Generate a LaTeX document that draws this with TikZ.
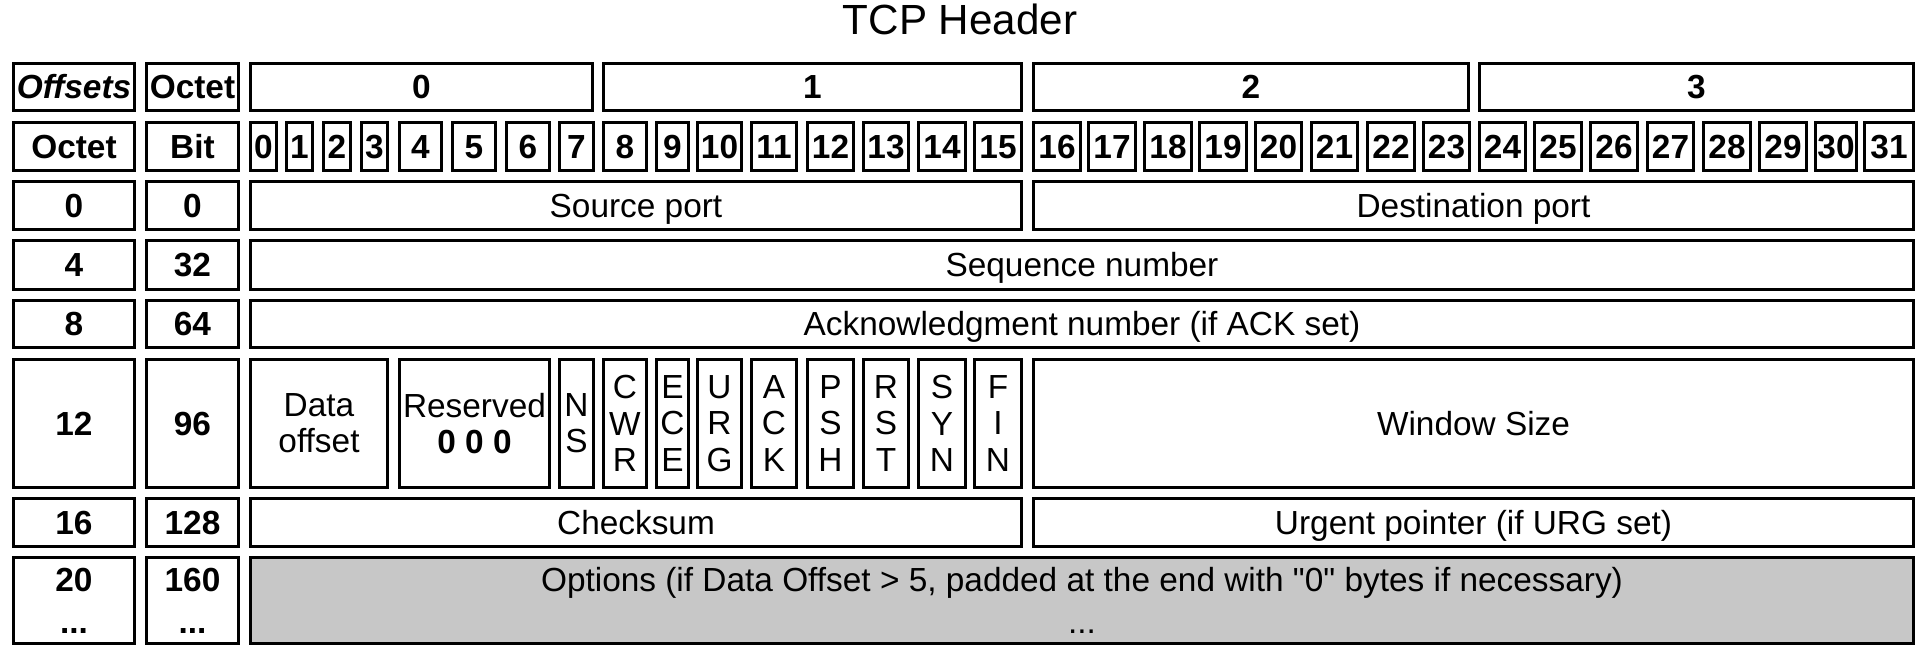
\documentclass[tikz,border=0pt]{standalone}
\usepackage{fontspec}
\setmainfont{Liberation Sans}
% [text style]{name}{left}{right}{top}{bottom}{text}, edges in pixels
\newcommand\hdrcell[7][celltxt]{%
  \draw[cellline] ({#3/100+0.015},{-#5/100-0.015}) rectangle ({#4/100-0.015},{-#6/100+0.015});
  \node[#1] (#2) at ({(#3+#4)/200},{-(#5+#6)/200}) {#7};}
\tikzset{
  cellline/.style={line width=0.85pt},
  celltxt/.style={inner sep=0pt, font=\fontsize{9.5}{10.3}\selectfont, text height=6.8pt, text depth=0pt},
  cellbold/.style={celltxt, font=\fontsize{9.5}{10.3}\selectfont\bfseries},
  flagtxt/.style={inner sep=0pt, align=center, font=\fontsize{9.5}{10.3}\selectfont},
  opttxt/.style={flagtxt, font=\fontsize{9.5}{12}\selectfont},
  optbold/.style={opttxt, font=\fontsize{9.5}{12}\selectfont\bfseries},
  optfill/.style={fill=black!22},
}
\begin{document}
\begin{tikzpicture}
	\useasboundingbox (0,0) rectangle (19.25,-6.5);
	%%%%% TITLE %%%%%
	\node[anchor=base, font=\fontsize{12}{14}\selectfont] (title) at (9.6,-0.35) {TCP Header};
	
	%%%%% OCTETS %%%%%
	\hdrcell[cellbold]{offsets}{12}{136}{62}{112}{\textit{Offsets}}
	\hdrcell[cellbold]{octethd}{145}{240}{62}{112}{Octet}
	\hdrcell[cellbold]{oct0}{249}{594}{62}{112}{0}
	\hdrcell[cellbold]{oct1}{602}{1023}{62}{112}{1}
	\hdrcell[cellbold]{oct2}{1032}{1470}{62}{112}{2}
	\hdrcell[cellbold]{oct3}{1478}{1915}{62}{112}{3}
	
	%%%%% BITS %%%%%
	\hdrcell[cellbold]{octetcol}{12}{136}{121}{172}{Octet}
	\hdrcell[cellbold]{bitcol}{145}{240}{121}{172}{Bit}
	\foreach \l/\r [count=\b from 0] in {249/278, 285/314, 322/352, 360/389, 398/443, 451/497, 505/551, 558/595,
		602/648, 655/690, 696/743, 750/798, 806/855, 862/910, 917/967, 973/1023,
		1032/1082, 1087/1137, 1143/1193, 1198/1248, 1254/1303, 1310/1359, 1366/1416, 1422/1471,
		1478/1527, 1533/1583, 1589/1639, 1646/1695, 1702/1752, 1758/1808, 1814/1858, 1863/1915}
		{\hdrcell[cellbold]{bit\b}{\l}{\r}{121}{172}{\b}}
	
	%%%%% OFFSETS %%%%%
	\foreach \o/\t/\u in {0/180/231, 4/239/291, 8/299/349, 12/358/489, 16/497/548}{
		\pgfmathtruncatemacro\bv{\o*8}
		\hdrcell[cellbold]{row\o}{12}{136}{\t}{\u}{\o}
		\hdrcell[cellbold]{rowbit\o}{145}{240}{\t}{\u}{\bv}
	}
	\hdrcell[optbold]{row20}{12}{136}{556}{645}{20\\...}
	\hdrcell[optbold]{rowbit20}{145}{240}{556}{645}{160\\...}
	
	%%%%% FIELDS %%%%%
	\hdrcell{srcport}{249}{1023}{180}{231}{Source port}
	\hdrcell{dstport}{1032}{1915}{180}{231}{Destination port}
	\hdrcell{seqnum}{249}{1915}{239}{291}{Sequence number}
	\hdrcell{acknum}{249}{1915}{299}{349}{Acknowledgment number (if ACK set)}
	\hdrcell[flagtxt]{dataoff}{249}{389}{358}{489}{Data\\offset}
	\hdrcell[flagtxt]{reserved}{398}{551}{358}{489}{Reserved\\\textbf{0 0 0}}
	\foreach \n/\f/\l/\r in {ns/N\\S/558/595, cwr/C\\W\\R/602/648, ece/E\\C\\E/655/690, urg/U\\R\\G/696/743,
		ack/A\\C\\K/750/798, psh/P\\S\\H/806/855, rst/R\\S\\T/862/910, syn/S\\Y\\N/917/967, fin/F\\I\\N/973/1023}
		{\hdrcell[flagtxt]{\n}{\l}{\r}{358}{489}{\f}}
	\hdrcell{winsize}{1032}{1915}{358}{489}{Window Size}
	\hdrcell{checksum}{249}{1023}{497}{548}{Checksum}
	\hdrcell{urgptr}{1032}{1915}{497}{548}{Urgent pointer (if URG set)}
	\fill[optfill] (2.49,-5.56) rectangle (19.15,-6.45);
	\hdrcell[opttxt]{options}{249}{1915}{556}{645}{Options (if Data Offset > 5, padded at the end with \textquotedbl 0\textquotedbl{} bytes if necessary)\\...}
\end{tikzpicture}
\end{document}
